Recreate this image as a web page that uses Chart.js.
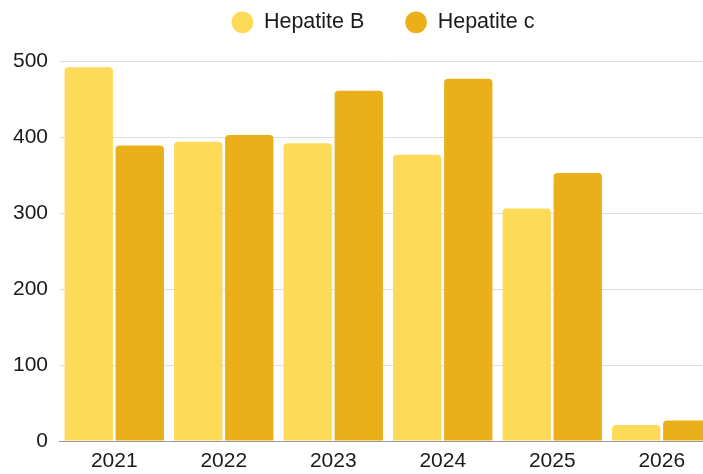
<!DOCTYPE html>
<html>
<head>
<meta charset="utf-8">
<script src="https://cdn.jsdelivr.net/npm/chart.js@4"></script>
<style>
  html, body { margin: 0; padding: 0; background: #fff; }
  #janela { width: 703px; height: 474px; overflow: hidden; }
  #wrap { width: 766px; height: 474px; position: relative; }
</style>
</head>
<body>
<div id="janela"><div id="wrap"><canvas id="grafico"></canvas></div></div>
<script>
// Dados
const anos = ['2021', '2022', '2023', '2024', '2025', '2026'];
const hepatiteB = [492, 394, 392, 377, 306, 21];
const hepatiteC = [389, 403, 461, 477, 353, 27];
const ticksY = [0, 100, 200, 300, 400, 500];

const corB = 'rgb(253, 219, 89)';
const corC = 'rgb(234, 175, 25)';
const fonte = 'Liberation Sans, Arial, sans-serif';

const data = {
    labels: anos,
    datasets: [
        {
            label: 'Hepatite B',
            data: hepatiteB,
            backgroundColor: corB,
            borderRadius: 4,
            borderSkipped: 'bottom',
            yAxisID: 'y'
        },
        {
            label: 'Hepatite c',
            data: hepatiteC,
            backgroundColor: corC,
            borderRadius: 4,
            borderSkipped: 'bottom',
            yAxisID: 'y'
        }
    ]
};

const config = {
    type: 'bar',
    data: data,
    options: {
        responsive: true,
        maintainAspectRatio: false,
        animation: false,
        categoryPercentage: 0.932,
        barPercentage: 0.947,
        // topo negativo para a legenda ficar perto da borda com espaçamento largo entre itens
        layout: { padding: { top: -29.5, right: 0, left: 0, bottom: 0 } },
        plugins: {
            legend: {
                position: 'top',
                labels: {
                    usePointStyle: true,
                    pointStyle: 'circle',
                    boxWidth: 15.3,
                    boxHeight: 15.3,
                    pointStyleWidth: 21.6,
                    padding: 41,
                    color: '#1a1a1a',
                    font: { family: fonte, size: 21.5 }
                }
            },
            // título vazio usado só como espaço entre a legenda e o gráfico
            title: {
                display: true,
                text: '',
                position: 'top',
                weight: 500,
                padding: 0,
                font: { size: 18.25, lineHeight: 1 }
            },
            tooltip: { enabled: false }
        },
        scales: {
            x: {
                afterFit: axis => { axis.height = 33; },
                grid: { display: false, drawTicks: false },
                border: { display: true, color: '#9a9a9a', width: 1 },
                ticks: {
                    color: '#1a1a1a',
                    padding: 7.5,
                    font: { family: fonte, size: 21 }
                }
            },
            y: {
                min: 0,
                max: 500,
                afterBuildTicks: axis => { axis.ticks = ticksY.map(v => ({ value: v })); },
                afterFit: axis => { axis.width = 59.5; },
                grid: { color: '#dedede', drawTicks: false },
                border: { display: false },
                ticks: {
                    color: '#1a1a1a',
                    padding: 11.5,
                    font: { family: fonte, size: 21 }
                }
            },
            // eixo vazio à direita, só reserva espaço (o gráfico original foi cortado)
            direita: {
                position: 'right',
                display: true,
                afterFit: axis => { axis.width = 49.5; },
                grid: { display: false, drawTicks: false },
                border: { display: false },
                ticks: { display: false }
            }
        }
    }
};

const ctx = document.getElementById('grafico').getContext('2d');
const myChart = new Chart(ctx, config);
</script>
</body>
</html>
